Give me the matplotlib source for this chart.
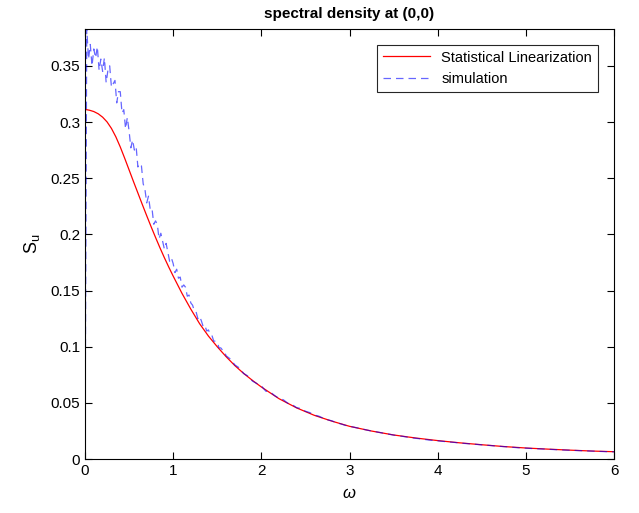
import matplotlib
matplotlib.use("Agg")
import matplotlib.pyplot as plt

plt.rcParams['font.family'] = ['Liberation Sans', 'DejaVu Sans']
plt.rcParams['mathtext.fontset'] = 'custom'
plt.rcParams['mathtext.rm'] = 'Liberation Sans'
plt.rcParams['mathtext.it'] = 'Liberation Sans:italic'

# statistical linearization
sl_w = [0.0, 0.0, 0.05, 0.1, 0.15, 0.2, 0.25, 0.3, 0.35, 0.4, 0.45, 0.5,
        0.55, 0.6, 0.65, 0.7, 0.75, 0.8, 0.85, 0.9, 0.95, 1.0, 1.1, 1.2,
        1.3, 1.4, 1.5, 1.6, 1.7, 1.8, 1.9, 2.0, 2.2, 2.4, 2.6, 2.8, 3.0,
        3.25, 3.5, 3.75, 4.0, 4.25, 4.5, 4.75, 5.0, 5.25, 5.5, 5.75, 6.0]
sl_s = [0.0, 0.3112, 0.3105, 0.3093, 0.3073, 0.3043, 0.3001, 0.2943, 0.2868,
        0.2778, 0.2678, 0.2574, 0.2470, 0.2368, 0.2266, 0.2166, 0.2068,
        0.1973, 0.1881, 0.1793, 0.1709, 0.1629, 0.1475, 0.1335, 0.1205,
        0.1095, 0.1000, 0.0912, 0.0832, 0.0762, 0.0700, 0.0642, 0.0538,
        0.0456, 0.0390, 0.0338, 0.0292, 0.0250, 0.0215, 0.0188, 0.0165,
        0.0145, 0.0128, 0.0112, 0.0099, 0.0089, 0.0080, 0.0072, 0.0066]

# simulation (noisy estimate)
sim_w = [0.0, 0.02, 0.04, 0.06, 0.08, 0.10, 0.12, 0.14, 0.16, 0.18, 0.20,
         0.22, 0.24, 0.26, 0.28, 0.30, 0.32, 0.34, 0.36, 0.38, 0.40,
         0.42, 0.44, 0.46, 0.48, 0.50, 0.52, 0.54, 0.56, 0.58, 0.60,
         0.62, 0.64, 0.66, 0.68, 0.70, 0.72, 0.74, 0.76, 0.78, 0.80,
         0.82, 0.84, 0.86, 0.88, 0.90, 0.92, 0.94, 0.96, 0.98, 1.00,
         1.02, 1.04, 1.06, 1.08, 1.10, 1.12, 1.14, 1.16, 1.18, 1.20,
         1.22, 1.24, 1.26, 1.28, 1.30, 1.32, 1.34, 1.36, 1.38, 1.40,
         1.42, 1.44, 1.46, 1.48, 1.50, 1.52, 1.54, 1.56, 1.58, 1.60,
         1.65, 1.70, 1.75, 1.80, 1.85, 1.90, 1.95, 2.00, 2.05, 2.10,
         2.15, 2.20, 2.25, 2.30, 2.35, 2.40, 2.45, 2.50, 2.55, 2.60,
         2.65, 2.70, 2.75, 2.80, 2.85, 2.90, 2.95, 3.00,
         3.1, 3.2, 3.3, 3.4, 3.5, 3.6, 3.7, 3.8, 3.9, 4.0,
         4.1, 4.2, 4.3, 4.4, 4.5, 4.6, 4.7, 4.8, 4.9, 5.0,
         5.1, 5.2, 5.3, 5.4, 5.5, 5.6, 5.7, 5.8, 5.9, 6.0]
sim_s = [0.0, 0.383, 0.356, 0.369, 0.350, 0.365, 0.357, 0.367, 0.346, 0.356, 0.345,
         0.357, 0.335, 0.346, 0.350, 0.331, 0.334, 0.337, 0.317, 0.327, 0.327,
         0.308, 0.311, 0.294, 0.304, 0.292, 0.277, 0.284, 0.275, 0.278, 0.260,
         0.263, 0.261, 0.245, 0.240, 0.228, 0.234, 0.222, 0.223, 0.209, 0.212,
         0.209, 0.196, 0.201, 0.194, 0.187, 0.192, 0.184, 0.176, 0.179, 0.174,
         0.166, 0.169, 0.161, 0.162, 0.153, 0.155, 0.153, 0.145, 0.146, 0.139,
         0.137, 0.132, 0.131, 0.125, 0.127, 0.123, 0.118, 0.119, 0.114, 0.115,
         0.111, 0.110, 0.105, 0.105, 0.104, 0.099, 0.099, 0.097, 0.096, 0.092,
         0.0890, 0.0838, 0.0812, 0.0762, 0.0738, 0.0694, 0.0672, 0.0652, 0.0605, 0.0598,
         0.0566, 0.0541, 0.0528, 0.0497, 0.0485, 0.0458, 0.0450, 0.0426, 0.0414, 0.0392,
         0.0383, 0.0365, 0.0350, 0.0341, 0.0324, 0.0314, 0.0301, 0.0293,
         0.0276, 0.0258, 0.0243, 0.0229, 0.0214, 0.0203, 0.0190, 0.0181, 0.0170, 0.0163,
         0.0155, 0.0148, 0.0140, 0.0134, 0.0127, 0.0121, 0.0114, 0.0109, 0.0102, 0.0098,
         0.0093, 0.0090, 0.0086, 0.0082, 0.0079, 0.0076, 0.0073, 0.0070, 0.0067, 0.0065]

xticks = [0, 1, 2, 3, 4, 5, 6]
yticks = [0, 0.05, 0.1, 0.15, 0.2, 0.25, 0.3, 0.35]
ytick_labels = ['0', '0.05', '0.1', '0.15', '0.2', '0.25', '0.3', '0.35']

fig = plt.figure(figsize=(6.39, 5.13), dpi=100)
ax = fig.add_axes([0.133, 0.105, 0.828, 0.839])

ax.plot(sl_w, sl_s, color='red', lw=0.9, label='Statistical Linearization')
ax.plot(sim_w, sim_s, color='blue', lw=0.9, ls='--', alpha=0.6,
        dashes=(6, 4), label='simulation')

ax.set_xlim(0, 6)
ax.set_ylim(0, 0.383)
ax.set_xticks(xticks)
ax.set_yticks(yticks)
ax.set_yticklabels(ytick_labels)
ax.tick_params(direction='in', top=True, right=True, length=5, width=0.8,
               labelsize=11)
for sp in ax.spines.values():
    sp.set_linewidth(0.8)

ax.set_title('spectral density at (0,0)', fontsize=11, fontweight='bold', pad=8)
ax.set_xlabel(r'$\mathit{\omega}$', fontsize=12, labelpad=6)
ax.set_ylabel(r'S$_\mathregular{u}$', fontsize=13, labelpad=6)

leg = ax.legend(loc='upper right', fontsize=10.5, fancybox=False, framealpha=1,
                edgecolor='#262626', handlelength=3.2, borderaxespad=1.1,
                labelspacing=0.5)
leg.get_frame().set_linewidth(0.8)

fig.savefig('out.png', dpi=100)
